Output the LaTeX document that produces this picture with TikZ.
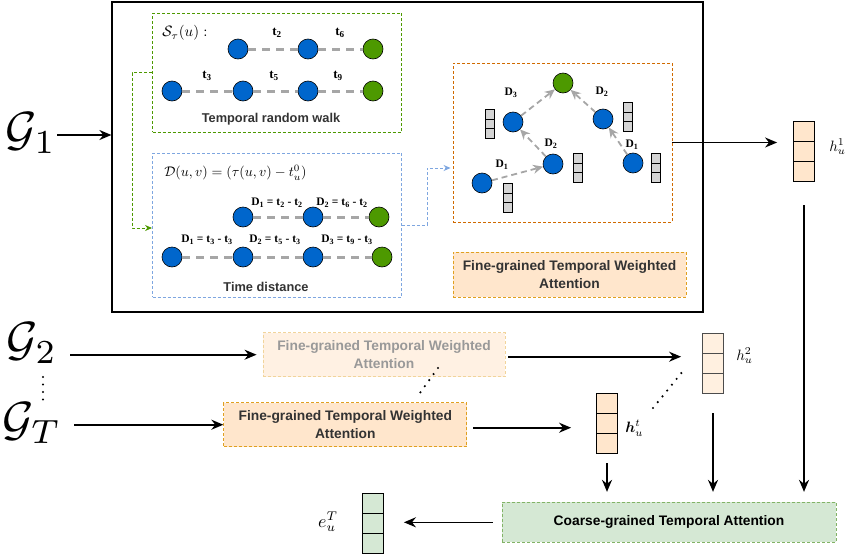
\documentclass[tikz,border=0pt]{standalone}
\usepackage{fontspec}
\usepackage{amsmath}
\usetikzlibrary{arrows.meta, calc, positioning}
\newfontfamily\boxfont{Liberation Sans}
\newfontfamily\labfont{Liberation Serif}

\definecolor{nodeblue}{HTML}{0066CC}
\definecolor{nodegreen}{HTML}{4D9900}
\definecolor{edgegray}{HTML}{A6A6A6}
\definecolor{cellgray}{HTML}{D4D4D4}
\definecolor{peach}{HTML}{FFE6CC}
\definecolor{fgline}{HTML}{E0A020}
\definecolor{regionline}{HTML}{D06A00}
\definecolor{walkline}{HTML}{4D9900}
\definecolor{distline}{HTML}{7EA6E0}
\definecolor{mint}{HTML}{D5E8D4}
\definecolor{mintline}{HTML}{82B366}
\definecolor{boxtext}{HTML}{333333}

\tikzset{
    vtx/.style={circle, draw=black, line width=0.6pt, minimum size=20pt, inner sep=0pt},
    bvtx/.style={vtx, fill=nodeblue},
    gvtx/.style={vtx, fill=nodegreen},
    walk/.style={draw=edgegray, line width=3pt, dash pattern=on 8pt off 6pt},
    flow/.style={draw=edgegray, line width=1.8pt, dash pattern=on 6pt off 4pt,
        -{Stealth[length=10pt, width=9pt]}},
    arr/.style={draw=black, line width=1.6pt, -{Stealth[length=12pt, width=10pt]}},
    region/.style={draw, line width=0.9pt, dash pattern=on 3pt off 2pt, inner sep=0pt},
    attnbox/.style={region, draw=fgline, fill=peach, text=boxtext, align=center,
        font=\boxfont\bfseries\fontsize{13.8}{18}\selectfont},
    dots/.style={line width=2.4pt, line cap=round, dash pattern=on 0pt off 7.5pt},
    tlab/.style={inner sep=0pt, font=\labfont\bfseries\fontsize{13}{13}\selectfont},
    dlab/.style={inner sep=0pt, font=\labfont\bfseries\fontsize{11.5}{12}\selectfont},
    captxt/.style={inner sep=0pt, text=boxtext, font=\boxfont\bfseries\fontsize{12.8}{14}\selectfont},
    glab/.style={inner sep=0pt, scale=4.8},
    mlab/.style={inner sep=0pt, scale=1.5},
    vec/.style={draw, line width=0.8pt, minimum width=21pt, minimum height=60pt, inner sep=0pt,
        path picture={
            \draw[line width=0.8pt]
            ($(path picture bounding box.north west)!0.3333!(path picture bounding box.south west)$) --
            ($(path picture bounding box.north east)!0.3333!(path picture bounding box.south east)$)
            ($(path picture bounding box.north west)!0.6667!(path picture bounding box.south west)$) --
            ($(path picture bounding box.north east)!0.6667!(path picture bounding box.south east)$);
        }},
    svec/.style={vec, fill=cellgray, minimum width=9.5pt, minimum height=29pt}
}

\begin{document}
\begin{tikzpicture}[x=1pt, y=-1pt]
    \useasboundingbox (0,0) rectangle (864,557);

    % first snapshot
    \node[draw, line width=1.2pt, minimum width=591pt, minimum height=310pt, inner sep=0pt] (snap) at (407.5,157) {};
    \node[glab] (g1) at (31,133) {$\mathcal{G}_1$};
    \draw[arr] ([yshift=-2pt]g1.east) -- ([yshift=-2pt]g1.east -| snap.west);

    % temporal random walk
    \node[region, draw=walkline, minimum width=249pt, minimum height=119pt] (walk) at (277,72.5) {};
    \node[mlab, anchor=west] (sw) at (162,33) {$\mathcal{S}_\tau(u):$};
    \node[bvtx] (w1) at (238,49) {};
    \node[bvtx] (w2) at (308,49) {};
    \node[gvtx] (w3) at (373,49) {};
    \node[bvtx] (w4) at (172,91) {};
    \node[bvtx] (w5) at (243,91) {};
    \node[bvtx] (w6) at (308,91) {};
    \node[gvtx] (w7) at (373,91) {};
    \draw[walk] (w1) -- (w2);
    \draw[walk] (w2) -- (w3);
    \draw[walk] (w4) -- (w5);
    \draw[walk] (w5) -- (w6);
    \draw[walk] (w6) -- (w7);
    \node[tlab] (t2) at (277,33) {t\textsubscript{2}};
    \node[tlab] (t6) at (340,33) {t\textsubscript{6}};
    \node[tlab] (t3) at (207,76) {t\textsubscript{3}};
    \node[tlab] (t5) at (274,76) {t\textsubscript{5}};
    \node[tlab] (t9) at (338,76) {t\textsubscript{9}};
    \node[captxt] (walktxt) at (271,119) {Temporal random walk};

    % time distance
    \node[region, draw=distline, minimum width=249pt, minimum height=144pt] (dist) at (277,225) {};
    \node[mlab, scale=0.93, anchor=west] (dd) at (164,173) {$\mathcal{D}(u,v) = (\tau(u,v) - t_u^0)$};
    \node[bvtx] (d1) at (243,217) {};
    \node[bvtx] (d2) at (313,217) {};
    \node[gvtx] (d3) at (379,217) {};
    \node[bvtx] (d4) at (172,257) {};
    \node[bvtx] (d5) at (243,257) {};
    \node[bvtx] (d6) at (313,257) {};
    \node[gvtx] (d7) at (382,257) {};
    \draw[walk] (d1) -- (d2);
    \draw[walk] (d2) -- (d3);
    \draw[walk] (d4) -- (d5);
    \draw[walk] (d5) -- (d6);
    \draw[walk] (d6) -- (d7);
    \node[dlab] (l1) at (277,203) {D\textsubscript{1} = t\textsubscript{2} - t\textsubscript{2}};
    \node[dlab] (l2) at (342,203) {D\textsubscript{2} = t\textsubscript{6} - t\textsubscript{2}};
    \node[dlab] (l3) at (207,240) {D\textsubscript{1} = t\textsubscript{3} - t\textsubscript{3}};
    \node[dlab] (l4) at (275,240) {D\textsubscript{2} = t\textsubscript{5} - t\textsubscript{3}};
    \node[dlab] (l5) at (347,240) {D\textsubscript{3} = t\textsubscript{9} - t\textsubscript{3}};
    \node[captxt] (disttxt) at (266,287) {Time distance};

    % weighted aggregation
    \node[region, draw=regionline, minimum width=219pt, minimum height=159pt] (region) at (562.5,142.5) {};
    \node[bvtx] (a1) at (482,183) {};
    \node[bvtx] (a2) at (553,164) {};
    \node[bvtx] (a3) at (513,122) {};
    \node[gvtx] (a4) at (563,83) {};
    \node[bvtx] (a5) at (603,119) {};
    \node[bvtx] (a6) at (633,163) {};
    \draw[flow] (a1) -- (a2);
    \draw[flow] (a2) -- (a3);
    \draw[flow] (a3) -- (a4);
    \draw[flow] (a6) -- (a5);
    \draw[flow] (a5) -- (a4);
    \node[dlab] (e1) at (502,165) {D\textsubscript{1}};
    \node[dlab] (e2) at (551,144) {D\textsubscript{2}};
    \node[dlab] (e3) at (511,93) {D\textsubscript{3}};
    \node[dlab] (e4) at (602,92) {D\textsubscript{2}};
    \node[dlab] (e5) at (632,145) {D\textsubscript{1}};
    \node[svec] (s1) at (490,124) {};
    \node[svec] (s2) at (578,168) {};
    \node[svec] (s3) at (508,198) {};
    \node[svec] (s4) at (628,117) {};
    \node[svec] (s5) at (656,168) {};
    \node[attnbox, minimum width=233pt, minimum height=45pt] (fg1) at (569.5,274.5)
        {Fine-grained Temporal Weighted\\Attention};

    \draw[walkline, line width=0.9pt, dash pattern=on 3pt off 2pt, -{Stealth[length=7pt, width=6pt]}]
        (walk.west) -- ++(-20,0) |- ([yshift=-3pt]dist.west);
    \draw[distline, line width=0.9pt, dash pattern=on 3pt off 2pt, -{Stealth[length=7pt, width=6pt]}]
        (dist.east) -- ++(25,0) |- ([yshift=-25.5pt, xshift=-2pt]region.west);

    \node[vec, fill=peach] (h1) at (804,151) {};
    \node[mlab, anchor=west] (h1txt) at (829,147) {$h_u^1$};
    \draw[arr, shorten >=16pt] (region.east) -- (region.east -| h1.west);

    % later snapshots
    \node[glab] (g2) at (32,343) {$\mathcal{G}_2$};
    \node[glab] (gT) at (32,423) {$\mathcal{G}_T$};
    \coordinate (gdA) at (43,377);
    \coordinate (gdB) at (43,401);
    \draw[dots] (gdA) -- (gdB);

    \node[attnbox, draw=fgline!45, fill=peach!55, text=black!40, minimum width=242pt, minimum height=44pt] (fg2) at (384,354.7)
        {Fine-grained Temporal Weighted\\Attention};
    \node[attnbox, minimum width=243pt, minimum height=44pt] (fgT) at (345.3,424.7)
        {Fine-grained Temporal Weighted\\Attention};
    \draw[arr] ([xshift=12pt]g2.east |- fg2.west) -- ([xshift=-6pt]fg2.west);
    \draw[arr] ([xshift=12pt]gT.east |- fgT.west) -- (fgT.west);
    \coordinate (fdA) at (438,368);
    \coordinate (fdB) at (417,397);
    \draw[dots] (fdA) -- (fdB);

    \node[vec, fill=peach!60, draw=black!70] (h2) at (713,363) {};
    \node[mlab, anchor=west] (h2txt) at (736,356) {$h_u^2$};
    \node[vec, fill=peach] (ht) at (607,423) {};
    \node[mlab, anchor=west] (httxt) at (625,428) {$\boldsymbol{h}_u^t$};
    \draw[arr, shorten <=3pt, shorten >=21pt] ([yshift=-2pt]fg2.east) -- ([yshift=-2pt]fg2.east -| h2.west);
    \draw[arr, shorten <=6pt, shorten >=25pt] ([yshift=-3pt]fgT.east) -- ([yshift=-3pt]fgT.east -| ht.west);
    \coordinate (hdA) at (653,408);
    \coordinate (hdB) at (683,371);
    \draw[dots] (hdA) -- (hdB);

    % coarse-grained attention
    \node[region, draw=mintline, fill=mint, text=black, minimum width=334pt, minimum height=40pt,
        font=\boxfont\bfseries\fontsize{13.8}{16}\selectfont] (coarse) at (669,522.3) {Coarse-grained Temporal Attention};
    \draw[arr, shorten <=10pt, shorten >=10pt] (ht.south) -- (ht.south |- coarse.north);
    \draw[arr, shorten <=20pt, shorten >=10pt] (h2.south) -- (h2.south |- coarse.north);
    \draw[arr, shorten <=24pt, shorten >=10pt] (h1.south) -- (h1.south |- coarse.north);

    \node[vec, fill=mint] (eu) at (373,523) {};
    \node[mlab, scale=1.2] (eutxt) at (328,522) {$e_u^T$};
    \draw[arr, shorten <=9pt, shorten >=20pt] (coarse.west) -- (coarse.west -| eu.east);
\end{tikzpicture}
\end{document}
